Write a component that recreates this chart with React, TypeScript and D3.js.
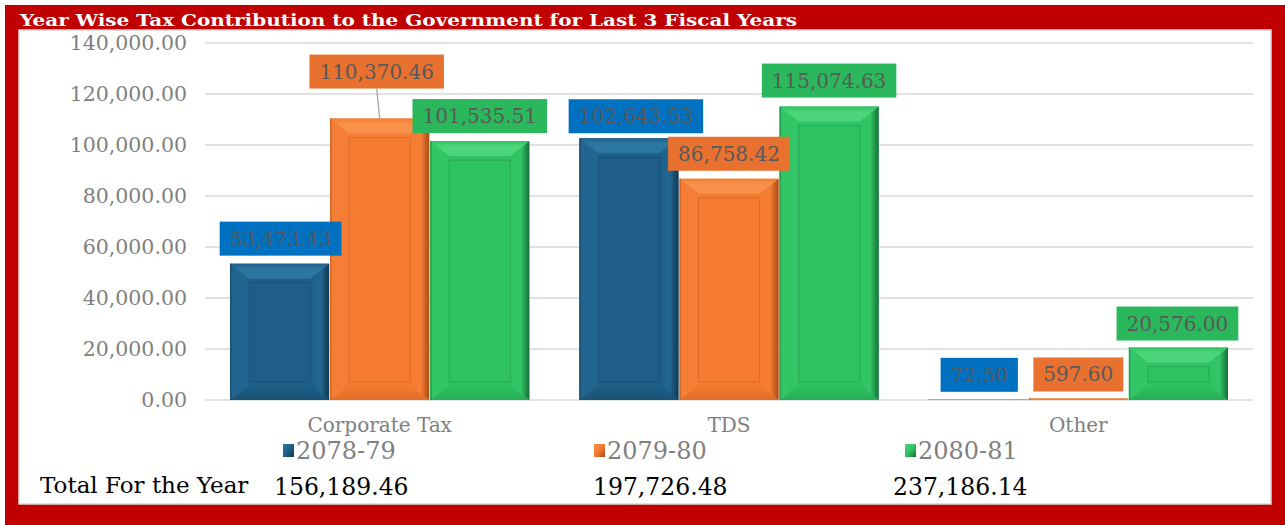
import React from "react";
import * as d3 from "d3";

const categories = ["Corporate Tax", "TDS", "Other"];
const seriesNames = ["2078-79", "2079-80", "2080-81"];
const values2078 = [53473.43, 102643.53, 72.5];
const values2079 = [110370.46, 86758.42, 597.6];
const values2080 = [101535.51, 115074.63, 20576.0];
const yTicks = [0, 20000, 40000, 60000, 80000, 100000, 120000, 140000];
const totalsLabel = "Total For the Year";
const totals = [156189.46, 197726.48, 237186.14];
const title = "Year Wise Tax Contribution to the Government for Last 3 Fiscal Years";

const seriesValues = [values2078, values2079, values2080];

// styling per series
const barStyle = [
  { face: "#1F5F87", top: "#2C77A2", side: "#22668F", dark: "#0E3852", bottom: "#1A5275", label: "#0070C0" },
  { face: "#F47B31", top: "#F8914A", side: "#F47E35", dark: "#A84C14", bottom: "#E06E27", label: "#E8712F" },
  { face: "#2EC263", top: "#4CD57B", side: "#32C667", dark: "#166F36", bottom: "#28AE58", label: "#2BB75B" },
];
// label tweaks [series][category] : dx, gap above bar
const labelTweaks = [
  [{ dx: 1, gap: 8 }, { dx: 7, gap: 5 }, { dx: 1, gap: 8 }],
  [{ dx: -3, gap: 30 }, { dx: 0, gap: 8 }, { dx: 0, gap: 7 }],
  [{ dx: 0, gap: 8 }, { dx: 0, gap: 9 }, { dx: -1, gap: 7 }],
];

const W = 1285;
const H = 525;
const fmt = d3.format(",.2f");
const SERIF = "'DejaVu Serif', serif";

let measureCtx: CanvasRenderingContext2D | null = null;
function textWidth(t: string, font: string) {
  if (!measureCtx) {
    const c = document.createElement("canvas");
    measureCtx = c.getContext("2d");
  }
  if (!measureCtx) return t.length * 11;
  measureCtx.font = font;
  return measureCtx.measureText(t).width;
}

export default function App() {
  const y = d3.scaleLinear().domain([0, 140000]).range([400, 43]);
  const x0 = d3.scaleBand<string>().domain(categories).range([205, 1253]).padding(0);
  const x1 = d3
    .scaleBand<string>()
    .domain(seriesNames)
    .range([0, x0.bandwidth()])
    .paddingInner(0.01)
    .paddingOuter(0.25);

  const bars: any[] = [];
  const labels: any[] = [];
  seriesNames.forEach((s, si) => {
    categories.forEach((c, ci) => {
      const v = seriesValues[si][ci];
      const xL = (x0(c) as number) + (x1(s) as number);
      const w = x1.bandwidth();
      const yt = y(v);
      const yb = y(0);
      const h = yb - yt;
      const st = barStyle[si];
      const bv = Math.min(19, h / 2.6, w / 2.6);
      const bh = Math.min(15, h / 3);
      const xR = xL + w;
      bars.push(
        <g key={`b-${si}-${ci}`}>
          <rect x={xL} y={yt} width={w} height={h} fill={st.face} />
          {/* bottom bevel */}
          <polygon points={`${xL},${yb} ${xR},${yb} ${xR - bv},${yb - bh} ${xL + bv},${yb - bh}`} fill={`url(#bg${si})`} />
          {/* left bevel */}
          <polygon points={`${xL},${yt} ${xL + bv},${yt + bh} ${xL + bv},${yb - bh} ${xL},${yb}`} fill={st.side} />
          {/* right bevel */}
          <polygon points={`${xR},${yt} ${xR - bv},${yt + bh} ${xR - bv},${yb - bh} ${xR},${yb}`} fill={`url(#rg${si})`} />
          {/* top bevel */}
          <polygon points={`${xL},${yt} ${xR},${yt} ${xR - bv},${yt + bh} ${xL + bv},${yt + bh}`} fill={`url(#tg${si})`} />
          {h > 2 * bh + 2 && (
            <rect
              x={xL + bv}
              y={yt + bh + 4}
              width={w - 2 * bv}
              height={Math.max(0, h - 2 * bh - 7)}
              fill={st.face}
              stroke={st.dark}
              strokeOpacity={0.3}
              strokeWidth={1}
            />
          )}
          <rect x={xL} y={yt} width={1.5} height={h} fill={st.dark} opacity={0.45} />
        </g>
      );

      const text = fmt(v);
      const font = `20px ${SERIF}`;
      const tw = textWidth(text, "20px 'DejaVu Serif'");
      const bw = tw + 20;
      const tk = labelTweaks[si][ci];
      const cx = xL + w / 2 + tk.dx;
      const boxBottom = yt - tk.gap;
      const boxTop = boxBottom - 34;
      labels.push(
        <g key={`l-${si}-${ci}`}>
          {tk.gap > 15 && (
            <line x1={cx} y1={boxBottom} x2={xL + w / 2} y2={yt} stroke="#A6A6A6" strokeWidth={1.3} />
          )}
          <rect x={cx - bw / 2} y={boxTop} width={bw} height={34} fill={st.label} />
          <text x={cx} y={boxTop + 24} textAnchor="middle" style={{ font }} fill="#595959">
            {text}
          </text>
        </g>
      );
    });
  });

  const legendX = [283, 594, 905];
  const totalsX = [274, 593, 893];

  return (
    <svg width={W} height={H} style={{ position: "absolute", left: 0, top: 0, display: "block" }}>
      <defs>
        {barStyle.map((st, i) => (
          <linearGradient key={`r${i}`} id={`rg${i}`} x1="0" x2="1" y1="0" y2="0">
            <stop offset="0" stopColor={st.face} />
            <stop offset="0.55" stopColor={st.side} />
            <stop offset="1" stopColor={st.dark} />
          </linearGradient>
        ))}
        {barStyle.map((st, i) => (
          <linearGradient key={`t${i}`} id={`tg${i}`} x1="0" x2="0" y1="0" y2="1">
            <stop offset="0" stopColor={st.face} />
            <stop offset="0.35" stopColor={st.top} />
            <stop offset="1" stopColor={st.top} />
          </linearGradient>
        ))}
        {barStyle.map((st, i) => (
          <linearGradient key={`b${i}`} id={`bg${i}`} x1="0" x2="0" y1="0" y2="1">
            <stop offset="0" stopColor={st.face} />
            <stop offset="1" stopColor={st.bottom} />
          </linearGradient>
        ))}
        {barStyle.map((st, i) => (
          <linearGradient key={`lg${i}`} id={`lg${i}`} x1="0" x2="1" y1="0" y2="1">
            <stop offset="0" stopColor={st.top} />
            <stop offset="0.5" stopColor={st.face} />
            <stop offset="1" stopColor={st.dark} />
          </linearGradient>
        ))}
      </defs>
      <rect x={0} y={0} width={W} height={H} fill="#ffffff" />
      <rect x={5} y={5} width={W - 5} height={H - 5} fill="#C00000" />
      <rect x={19} y={30} width={1252} height={474} fill="#ffffff" stroke="#D9D9D9" strokeWidth={1.5} />
      <text
        x={20}
        y={26}
        fill="#ffffff"
        textLength={777}
        lengthAdjust="spacingAndGlyphs"
        style={{ font: `bold 17px ${SERIF}` }}
      >
        {title}
      </text>

      {/* gridlines and y axis */}
      {yTicks.map((t) => (
        <g key={t}>
          <line x1={205} x2={1253} y1={y(t)} y2={y(t)} stroke="#D9D9D9" strokeWidth={1.5} />
          <text x={187} y={y(t) + 7} textAnchor="end" fill="#7F7F7F" style={{ font: `20.5px ${SERIF}` }}>
            {fmt(t)}
          </text>
        </g>
      ))}

      {bars}
      {labels}

      {/* category labels */}
      {categories.map((c) => (
        <text
          key={c}
          x={(x0(c) as number) + x0.bandwidth() / 2}
          y={432}
          textAnchor="middle"
          fill="#7F7F7F"
          style={{ font: `20px ${SERIF}` }}
        >
          {c}
        </text>
      ))}

      {/* legend */}
      {seriesNames.map((s, i) => (
        <g key={s}>
          <rect x={legendX[i]} y={444} width={11} height={13} fill={`url(#lg${i})`} />
          <text x={legendX[i] + 13} y={459} fill="#7F7F7F" style={{ font: `24px ${SERIF}` }}>
            {s}
          </text>
        </g>
      ))}

      {/* totals row */}
      <text x={40} y={493} fill="#000000" style={{ font: `23px ${SERIF}` }}>
        {totalsLabel}
      </text>
      {totals.map((t, i) => (
        <text key={i} x={totalsX[i]} y={495} fill="#000000" style={{ font: `23.5px ${SERIF}` }}>
          {fmt(t)}
        </text>
      ))}
    </svg>
  );
}
